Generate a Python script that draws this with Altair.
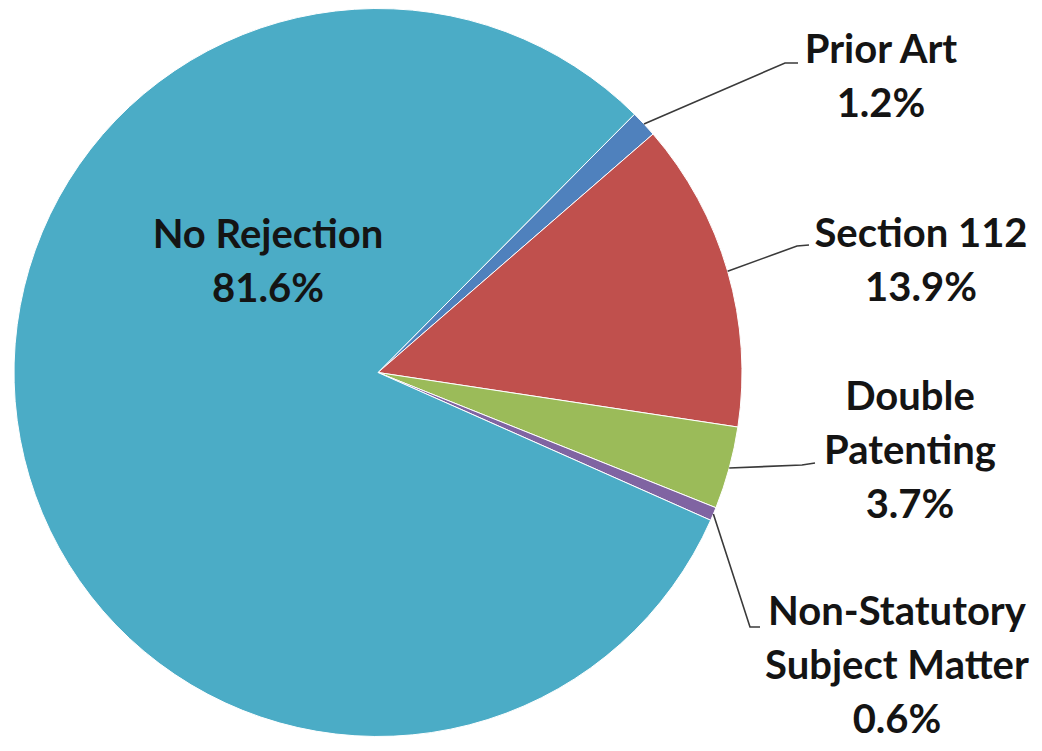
import math
import altair as alt
import pandas as pd

# ---- data ----
categories = ["Prior Art", "Section 112", "Double Patenting",
              "Non-Statutory Subject Matter", "No Rejection"]
shares = [1.2, 13.9, 3.7, 0.6, 81.6]
label_names = ["Prior Art", "Section 112", "Double\nPatenting",
               "Non-Statutory\nSubject Matter", "No Rejection"]
colors = ["#4F81BD", "#C0504D", "#9BBB59", "#8064A2", "#4BACC6"]

# ---- layout (screen pixels) ----
W, H = 1026, 735
CX, CY, R = 378, 372.5, 364
ROT = math.radians(44.8)
label_x = [881, 921, 910, 897, 268]
label_y = [51, 235, 398, 613, 236]   # centre of first line
elbow_pts = [(785, 63), (797, 246), (802, 465), (750, 627), None]
tick_pts = [(798, 63), (809, 245), (815, 463), (760, 627), None]

pie_df = pd.DataFrame({"cat": categories, "share": shares,
                       "idx": list(range(len(categories)))})

lab_df = pd.DataFrame({
    "text": [f"{n}\n{v:.1f}%" for n, v in zip(label_names, shares)],
    "x": label_x, "y": label_y,
})

total = sum(shares)
rows = []
cum = 0.0
for i, (c, v) in enumerate(zip(categories, shares)):
    mid = ROT + (cum + v / 2) / total * 2 * math.pi
    cum += v
    if elbow_pts[i] is None:
        continue
    sx = CX + R * math.sin(mid)
    sy = CY - R * math.cos(mid)
    rows.append({"cat": c, "k": 0, "x": sx, "y": sy})
    rows.append({"cat": c, "k": 1, "x": elbow_pts[i][0], "y": elbow_pts[i][1]})
    rows.append({"cat": c, "k": 2, "x": tick_pts[i][0], "y": tick_pts[i][1]})
lead_df = pd.DataFrame(rows)

xs = alt.Scale(domain=[8, 8 + W], range=[0, W])
ys = alt.Scale(domain=[8, 8 + H], range=[0, H])

pie = alt.Chart(pie_df).mark_arc(outerRadius=R, stroke="white", strokeWidth=1).encode(
    theta=alt.Theta("share:Q", stack=True,
                    scale=alt.Scale(range=[ROT, ROT + 2 * math.pi])),
    color=alt.Color("cat:N", scale=alt.Scale(domain=categories, range=colors),
                    legend=None),
    order=alt.Order("idx:Q"),
    x=alt.value(CX - 8),
    y=alt.value(CY - 8),
)

leaders = alt.Chart(lead_df).mark_line(color="#3a3a3a", strokeWidth=1.6).encode(
    x=alt.X("x:Q", scale=xs, axis=None),
    y=alt.Y("y:Q", scale=ys, axis=None),
    detail="cat:N",
    order="k:Q",
)

labels = alt.Chart(lab_df).mark_text(
    font="Lato", fontWeight="bold", fontSize=40, lineHeight=54,
    align="center", baseline="middle", color="#141414", lineBreak="\n",
).encode(
    x=alt.X("x:Q", scale=xs, axis=None),
    y=alt.Y("y:Q", scale=ys, axis=None),
    text="text:N",
)

chart = alt.layer(pie, leaders, labels).properties(
    width=W, height=H, padding=0, background="white",
    autosize=alt.AutoSizeParams(type="none"),
).configure_view(strokeWidth=0, stroke="transparent")

chart.save("out.html", embed_options={"renderer": "svg", "actions": False})
